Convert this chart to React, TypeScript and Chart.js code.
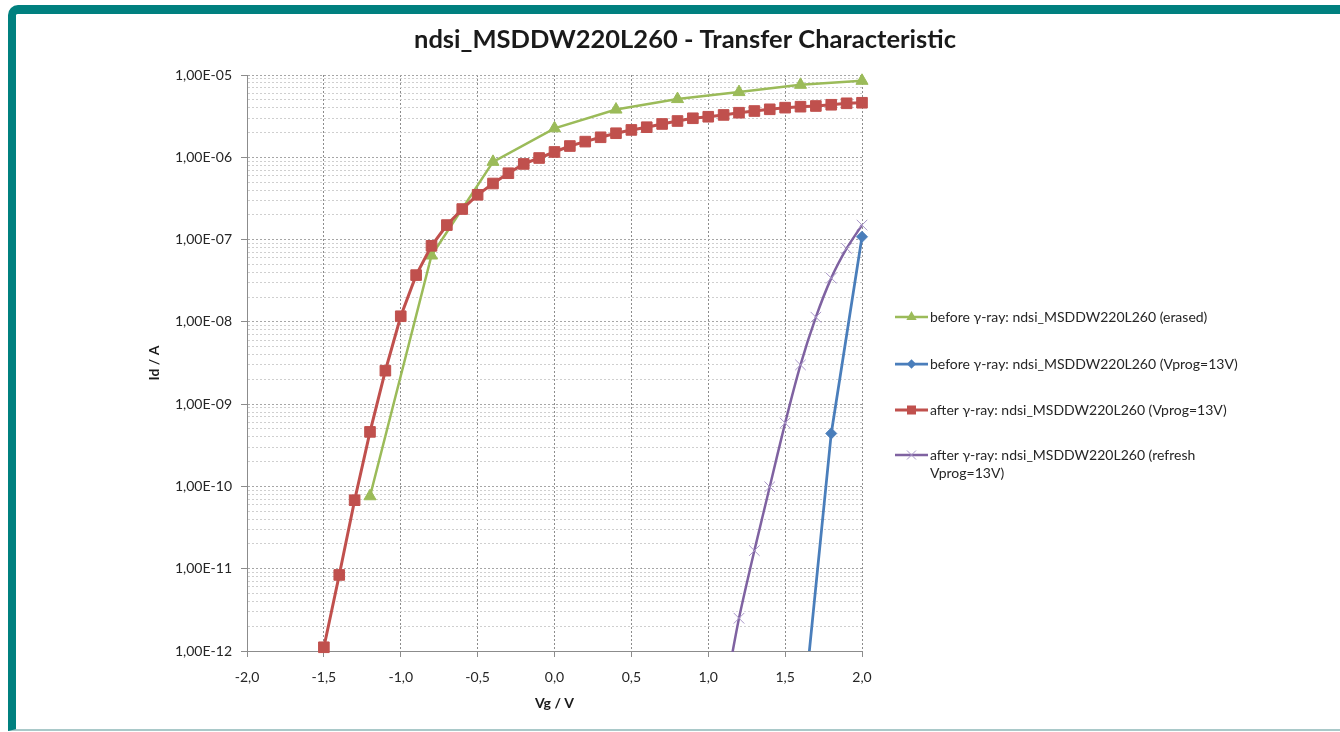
import React, { useEffect, useRef } from 'react';
import { Chart, registerables } from 'chart.js';

Chart.register(...registerables);

// ---------- data ----------
const titleText = 'ndsi_MSDDW220L260 - Transfer Characteristic';
const xAxisTitle = 'Vg / V';
const yAxisTitle = 'Id / A';

const xTicks = [-2, -1.5, -1, -0.5, 0, 0.5, 1, 1.5, 2];
const xTickLabels = ['-2,0', '-1,5', '-1,0', '-0,5', '0,0', '0,5', '1,0', '1,5', '2,0'];

const yDecades = [1e-12, 1e-11, 1e-10, 1e-9, 1e-8, 1e-7, 1e-6, 1e-5];
const yTickLabels = ['1,00E-12', '1,00E-11', '1,00E-10', '1,00E-09', '1,00E-08', '1,00E-07', '1,00E-06', '1,00E-05'];
const yMinorSteps = [2, 3, 4, 5, 6, 7, 8, 9];

const legendLabels = [
  ['before γ-ray: ndsi_MSDDW220L260 (erased)'],
  ['before γ-ray: ndsi_MSDDW220L260 (Vprog=13V)'],
  ['after γ-ray: ndsi_MSDDW220L260 (Vprog=13V)'],
  ['after γ-ray: ndsi_MSDDW220L260 (refresh', 'Vprog=13V)'],
];

// before γ-ray (erased)
const greenX = [-1.2, -0.8, -0.4, 0.0, 0.4, 0.8, 1.2, 1.6, 2.0];
const greenY = [7.6e-11, 6.4e-8, 8.8e-7, 2.25e-6, 3.8e-6, 5.1e-6, 6.2e-6, 7.6e-6, 8.5e-6];

// before γ-ray (Vprog=13V)
const blueX = [1.6, 1.8, 2.0];
const blueY = [8.5e-14, 4.4e-10, 1.08e-7];

// after γ-ray (Vprog=13V)
const redX = [
  -1.5, -1.4, -1.3, -1.2, -1.1, -1.0, -0.9, -0.8, -0.7, -0.6, -0.5, -0.4, -0.3, -0.2, -0.1,
  0.0, 0.1, 0.2, 0.3, 0.4, 0.5, 0.6, 0.7, 0.8, 0.9, 1.0, 1.1, 1.2, 1.3, 1.4, 1.5, 1.6, 1.7, 1.8, 1.9, 2.0,
];
const redY = [
  1.11e-12, 8.4e-12, 6.8e-11, 4.6e-10, 2.55e-9, 1.17e-8, 3.7e-8, 8.4e-8, 1.5e-7, 2.35e-7, 3.5e-7, 4.8e-7, 6.4e-7, 8.3e-7, 9.8e-7,
  1.16e-6, 1.37e-6, 1.55e-6, 1.75e-6, 1.96e-6, 2.15e-6, 2.32e-6, 2.54e-6, 2.76e-6, 2.98e-6, 3.11e-6, 3.27e-6, 3.48e-6, 3.65e-6,
  3.83e-6, 4.01e-6, 4.12e-6, 4.2e-6, 4.35e-6, 4.53e-6, 4.6e-6,
];

// after γ-ray (refresh Vprog=13V)
const purpleX = [1.1, 1.2, 1.3, 1.4, 1.5, 1.6, 1.7, 1.8, 1.9, 2.0];
const purpleY = [2.5e-13, 2.5e-12, 1.66e-11, 9.9e-11, 5.9e-10, 3.0e-9, 1.14e-8, 3.4e-8, 7.8e-8, 1.5e-7];

// ---------- styles ----------
const GREEN = '#9BBB59';
const BLUE = '#4A7EBB';
const RED = '#C0504D';
const PURPLE = '#7F62A1';
const PURPLE_LIGHT = '#A896C8';
const TEAL = '#00807F';
const FONT = 'Lato, "Open Sans", "DejaVu Sans", sans-serif';

const toPoints = (xs: number[], ys: number[]) => xs.map((x, i) => ({ x, y: ys[i] }));

const isDecade = (v: number) => {
  const l = Math.log10(v);
  return Math.abs(l - Math.round(l)) < 1e-6;
};

function drawMarker(ctx: CanvasRenderingContext2D, style: string, x: number, y: number, r: number, fill: string, stroke: string, lw: number) {
  ctx.save();
  ctx.fillStyle = fill;
  ctx.strokeStyle = stroke;
  ctx.lineWidth = lw;
  ctx.beginPath();
  if (style === 'triangle') {
    ctx.moveTo(x, y - r);
    ctx.lineTo(x + r * 0.866, y + r * 0.5);
    ctx.lineTo(x - r * 0.866, y + r * 0.5);
    ctx.closePath();
    ctx.fill();
  } else if (style === 'rectRot') {
    ctx.moveTo(x, y - r);
    ctx.lineTo(x + r, y);
    ctx.lineTo(x, y + r);
    ctx.lineTo(x - r, y);
    ctx.closePath();
    ctx.fill();
  } else if (style === 'rect') {
    const s = r * Math.SQRT1_2;
    ctx.rect(x - s, y - s, 2 * s, 2 * s);
    ctx.fill();
  } else if (style === 'crossRot') {
    const s = r * Math.SQRT1_2;
    ctx.moveTo(x - s, y - s);
    ctx.lineTo(x + s, y + s);
    ctx.moveTo(x - s, y + s);
    ctx.lineTo(x + s, y - s);
    ctx.stroke();
  }
  ctx.restore();
}

const decorPlugin = {
  id: 'decor',
  afterDraw(chart: any) {
    const ctx: CanvasRenderingContext2D = chart.ctx;
    const area = chart.chartArea;
    ctx.save();
    // title
    ctx.fillStyle = '#1a1a1a';
    ctx.font = `bold 25.5px ${FONT}`;
    ctx.textAlign = 'center';
    ctx.textBaseline = 'middle';
    ctx.fillText(titleText, 685, 40);

    // legend
    const rowY = [317, 364, 410, 455];
    const sampleX0 = area.right + 33;
    const sampleX1 = sampleX0 + 33;
    const textX = sampleX1 + 2;
    ctx.font = `14px ${FONT}`;
    ctx.textAlign = 'left';
    ctx.textBaseline = 'middle';
    legendLabels.forEach((lines, i) => {
      const ds = chart.data.datasets[i];
      const y = rowY[i];
      ctx.save();
      ctx.strokeStyle = ds.borderColor;
      ctx.lineWidth = ds.borderWidth;
      ctx.beginPath();
      ctx.moveTo(sampleX0, y);
      ctx.lineTo(sampleX1, y);
      ctx.stroke();
      ctx.restore();
      const mid = (sampleX0 + sampleX1) / 2;
      drawMarker(ctx, ds.pointStyle, mid, y, ds.pointRadius * 0.85, ds.pointBackgroundColor, ds.pointBorderColor, ds.pointBorderWidth);
      ctx.fillStyle = '#262626';
      lines.forEach((t, j) => ctx.fillText(t, textX, y + j * 18));
    });
    ctx.restore();
  },
};

export default function App() {
  const canvasRef = useRef<HTMLCanvasElement | null>(null);

  useEffect(() => {
    const canvas = canvasRef.current;
    if (!canvas) return;
    const chart = new Chart(canvas, {
      type: 'line',
      data: {
        datasets: [
          {
            label: legendLabels[0].join(' '),
            data: toPoints(greenX, greenY),
            borderColor: GREEN,
            backgroundColor: GREEN,
            borderWidth: 2.5,
            pointStyle: 'triangle',
            pointRadius: 7,
            pointBackgroundColor: GREEN,
            pointBorderColor: GREEN,
            pointBorderWidth: 1,
            tension: 0,
            order: 4,
            clip: { left: 10, right: 10, top: 10, bottom: 6 },
          },
          {
            label: legendLabels[1].join(' '),
            data: toPoints(blueX, blueY),
            borderColor: BLUE,
            backgroundColor: BLUE,
            borderWidth: 2.75,
            pointStyle: 'rectRot',
            pointRadius: 5.5,
            pointBackgroundColor: BLUE,
            pointBorderColor: BLUE,
            pointBorderWidth: 1,
            tension: 0,
            order: 3,
            clip: { left: 10, right: 10, top: 10, bottom: 0 },
          },
          {
            label: legendLabels[2].join(' '),
            data: toPoints(redX, redY),
            borderColor: RED,
            backgroundColor: RED,
            borderWidth: 3,
            pointStyle: 'rect',
            pointRadius: 7.5,
            pointBackgroundColor: RED,
            pointBorderColor: RED,
            pointBorderWidth: 1,
            tension: 0,
            order: 2,
            clip: { left: 10, right: 10, top: 10, bottom: 6 },
          },
          {
            label: legendLabels[3].join(' '),
            data: toPoints(purpleX, purpleY),
            borderColor: PURPLE,
            backgroundColor: PURPLE,
            borderWidth: 2.5,
            pointStyle: 'crossRot',
            pointRadius: 7.5,
            pointBackgroundColor: PURPLE_LIGHT,
            pointBorderColor: PURPLE_LIGHT,
            pointBorderWidth: 1,
            tension: 0.25,
            order: 1,
            clip: { left: 10, right: 10, top: 10, bottom: 1 },
          },
        ],
      },
      options: {
        animation: false,
        responsive: false,
        maintainAspectRatio: false,
        devicePixelRatio: 1,
        layout: { padding: { left: 146, right: 478, top: 75, bottom: 20 } },
        plugins: {
          legend: { display: false },
          title: { display: false },
          tooltip: { enabled: false },
        },
        scales: {
          x: {
            type: 'linear',
            min: -2,
            max: 2,
            afterBuildTicks: (scale: any) => {
              scale.ticks = xTicks.map((v) => ({ value: v }));
            },
            afterFit: (scale: any) => {
              scale.height = 61;
            },
            ticks: {
              autoSkip: false,
              maxRotation: 0,
              padding: 12,
              color: '#262626',
              font: { family: FONT, size: 14 },
              callback: (_v: any, i: number) => xTickLabels[i],
            },
            grid: {
              color: '#8c8c8c',
              lineWidth: 1,
              tickLength: 6,
              tickColor: '#8c8c8c',
            },
            border: { color: '#8c8c8c', dash: [2, 2] },
            title: {
              display: true,
              text: xAxisTitle,
              color: '#1a1a1a',
              font: { family: FONT, size: 14, weight: 'bold' },
              padding: 0,
            },
          },
          y: {
            type: 'logarithmic',
            min: 1e-12,
            max: 1e-5,
            afterBuildTicks: (scale: any) => {
              const ticks: { value: number }[] = [];
              yDecades.forEach((d, i) => {
                ticks.push({ value: d });
                if (i < yDecades.length - 1) {
                  yMinorSteps.forEach((m) => ticks.push({ value: m * d }));
                }
              });
              scale.ticks = ticks;
            },
            afterFit: (scale: any) => {
              scale.width = 101;
            },
            ticks: {
              autoSkip: false,
              padding: 9,
              color: '#262626',
              font: { family: FONT, size: 14 },
              callback: (v: any) => {
                const idx = yDecades.findIndex((d) => Math.abs(v / d - 1) < 1e-6);
                return idx >= 0 ? yTickLabels[idx] : '';
              },
            },
            grid: {
              color: (c: any) => (c.tick && isDecade(c.tick.value) ? '#a6a6a6' : '#cfcfcf'),
              tickColor: (c: any) => (c.tick && isDecade(c.tick.value) ? '#8c8c8c' : 'rgba(0,0,0,0)'),
              lineWidth: 1,
              tickLength: 6,
            },
            border: { color: '#8c8c8c', dash: [2, 2] },
            title: {
              display: true,
              text: yAxisTitle,
              color: '#1a1a1a',
              font: { family: FONT, size: 14, weight: 'bold' },
              padding: 0,
            },
          },
        },
      },
      plugins: [decorPlugin],
    } as any);
    return () => chart.destroy();
  }, []);

  return (
    <div style={{ position: 'fixed', left: 0, top: 0, width: 1340, height: 732, background: '#ffffff', overflow: 'hidden' }}>
      <div
        style={{
          position: 'absolute',
          left: 8,
          top: 5,
          width: 1400,
          height: 715,
          background: '#ffffff',
          borderTop: `9px solid ${TEAL}`,
          borderLeft: `8px solid ${TEAL}`,
          borderBottom: '2px solid #a9c9c9',
          borderTopLeftRadius: 10,
        }}
      />
      <canvas ref={canvasRef} width={1340} height={732} style={{ position: 'absolute', left: 0, top: 0, width: 1340, height: 732 }} />
    </div>
  );
}
